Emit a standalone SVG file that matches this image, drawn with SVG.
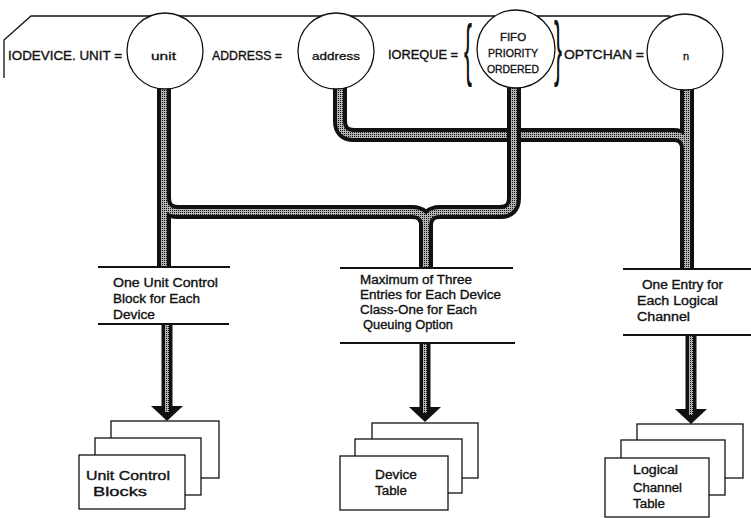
<svg xmlns="http://www.w3.org/2000/svg" width="751" height="518" viewBox="0 0 751 518">
<style>
text{font-family:"Liberation Sans",Arial,sans-serif;font-size:12.5px;fill:#111;stroke:#111;stroke-width:0.35px}
.sm{font-size:11px;stroke-width:0.3px}
.ci{font-size:11.5px}
.br{font-size:24px;stroke-width:0}
.mid{text-anchor:middle}
.circ{fill:#fff;stroke:#111;stroke-width:1.3}
.ol{fill:none;stroke:#111;stroke-width:14;stroke-linecap:butt;stroke-linejoin:round}
.in{fill:none;stroke:url(#stip);stroke-width:6;stroke-linecap:butt;stroke-linejoin:round}
.ol2{fill:none;stroke:#111;stroke-width:11}
.in2{fill:none;stroke:url(#stip);stroke-width:4}
.rule{stroke:#111;stroke-width:1.8;fill:none}
.card{fill:#fff;stroke:#111;stroke-width:1.3}
.edge{fill:none;stroke:#111;stroke-width:1.3}
</style>
<defs>
<pattern id="stip" width="2" height="2" patternUnits="userSpaceOnUse">
<rect width="2" height="2" fill="#b4b4b4"/>
<rect width="1" height="1" fill="#111"/>
</pattern>
</defs>
<rect width="751" height="518" fill="#fff"/>

<g id="card-outline">
<path class="edge" d="M4,78 L4,40 L31,16 L670,16"/>
</g>

<g id="connectors">
<path class="ol" d="M340,80 L340,121 Q340,135 354,135 L673,135 Q687,135 687,149"/>
<path class="ol" d="M687,80 L687,268"/>
<path class="in" d="M340,80 L340,121 Q340,135 354,135 L673,135 Q687,135 687,149"/>
<path class="in" d="M687,80 L687,268"/>
<path class="ol" d="M164,80 L164,268"/>
<path class="ol" d="M164,198 Q164,212 178,212 L412,212 Q426,212 426,226 L426,268"/>
<path class="ol" d="M514,80 L514,198 Q514,212 500,212 L440,212 Q426,212 426,226"/>
<path class="in" d="M164,80 L164,268"/>
<path class="in" d="M164,198 Q164,212 178,212 L412,212 Q426,212 426,226 L426,268"/>
<path class="in" d="M514,80 L514,198 Q514,212 500,212 L440,212 Q426,212 426,226"/>
<path class="ol2" d="M167,324 L167,408"/>
<polygon points="151,406 183,406 167,421" fill="#111"/>
<path class="in2" d="M167,324 L167,412"/>
<path class="ol2" d="M425,343 L425,409"/>
<polygon points="409,407 441,407 425,422" fill="#111"/>
<path class="in2" d="M425,343 L425,413"/>
<path class="ol2" d="M691,335 L691,411"/>
<polygon points="675,409 707,409 691,424" fill="#111"/>
<path class="in2" d="M691,335 L691,415"/>
</g>

<g id="header-text">
<text x="8" y="60" textLength="114" lengthAdjust="spacingAndGlyphs">IODEVICE. UNIT =</text>
<text x="212" y="60" textLength="70" lengthAdjust="spacingAndGlyphs">ADDRESS =</text>
<text x="388" y="59" textLength="70" lengthAdjust="spacingAndGlyphs">IOREQUE =</text>
<text x="564" y="59" textLength="80" lengthAdjust="spacingAndGlyphs">OPTCHAN =</text>
<text class="br" x="464" y="25.6" transform="scale(1,2.84)">{</text>
<text class="br" x="554" y="23.8" transform="scale(1,3.02)">}</text>
</g>

<g id="node-unit">
<circle class="circ" cx="165" cy="51" r="38"/>
<text class="sm" x="151" y="60" textLength="25" lengthAdjust="spacingAndGlyphs">unit</text>
</g>
<g id="node-address">
<circle class="circ" cx="336" cy="51" r="38"/>
<text class="sm" x="312" y="60" textLength="48" lengthAdjust="spacingAndGlyphs">address</text>
</g>
<g id="node-ioreque">
<circle class="circ" cx="516" cy="49" r="39"/>
<text class="ci mid" x="513" y="41">FIFO</text>
<text class="ci mid" x="513" y="57" textLength="50" lengthAdjust="spacingAndGlyphs">PRIORITY</text>
<text class="ci mid" x="513" y="73" textLength="52" lengthAdjust="spacingAndGlyphs">ORDERED</text>
</g>
<g id="node-optchan">
<circle class="circ" cx="685" cy="52" r="38"/>
<text class="sm mid" x="686" y="60">n</text>
</g>

<g id="label-ucb">
<line class="rule" x1="98" y1="267" x2="230" y2="267"/>
<line class="rule" x1="98" y1="324" x2="229" y2="324"/>
<text x="113" y="287" textLength="105" lengthAdjust="spacingAndGlyphs">One Unit Control</text>
<text x="113" y="303" textLength="87" lengthAdjust="spacingAndGlyphs">Block for Each</text>
<text x="113" y="319" textLength="42" lengthAdjust="spacingAndGlyphs">Device</text>
</g>
<g id="label-devtab">
<line class="rule" x1="340" y1="268" x2="513" y2="268"/>
<line class="rule" x1="340" y1="343" x2="515" y2="343"/>
<text x="360" y="284" textLength="112" lengthAdjust="spacingAndGlyphs">Maximum of Three</text>
<text x="360" y="299" textLength="141" lengthAdjust="spacingAndGlyphs">Entries for Each Device</text>
<text x="360" y="314" textLength="117" lengthAdjust="spacingAndGlyphs">Class-One for Each</text>
<text x="363" y="329" textLength="90" lengthAdjust="spacingAndGlyphs">Queuing Option</text>
</g>
<g id="label-lct">
<line class="rule" x1="623" y1="269" x2="751" y2="269"/>
<line class="rule" x1="623" y1="335" x2="751" y2="335"/>
<text x="642" y="289" textLength="81" lengthAdjust="spacingAndGlyphs">One Entry for</text>
<text x="637" y="305" textLength="81" lengthAdjust="spacingAndGlyphs">Each Logical</text>
<text x="637" y="321" textLength="53" lengthAdjust="spacingAndGlyphs">Channel</text>
</g>

<g id="node-ucb">
<rect class="card" x="111" y="421" width="108" height="57"/>
<rect class="card" x="95" y="438" width="106" height="57"/>
<rect class="card" x="79" y="455" width="106" height="54"/>
<text x="86" y="480" textLength="84" lengthAdjust="spacingAndGlyphs">Unit Control</text>
<text x="93" y="496" textLength="54" lengthAdjust="spacingAndGlyphs">Blocks</text>
</g>
<g id="node-devtab">
<rect class="card" x="372" y="423" width="106" height="55"/>
<rect class="card" x="355" y="439" width="107" height="54"/>
<rect class="card" x="340" y="456" width="108" height="54"/>
<text x="375" y="479" textLength="42" lengthAdjust="spacingAndGlyphs">Device</text>
<text x="375" y="495" textLength="32" lengthAdjust="spacingAndGlyphs">Table</text>
</g>
<g id="node-lct">
<rect class="card" x="637" y="424" width="106" height="54"/>
<rect class="card" x="621" y="440" width="104" height="55"/>
<rect class="card" x="605" y="458" width="104" height="59"/>
<text x="633" y="474" textLength="45" lengthAdjust="spacingAndGlyphs">Logical</text>
<text x="633" y="492" textLength="49" lengthAdjust="spacingAndGlyphs">Channel</text>
<text x="633" y="508" textLength="32" lengthAdjust="spacingAndGlyphs">Table</text>
</g>
</svg>
